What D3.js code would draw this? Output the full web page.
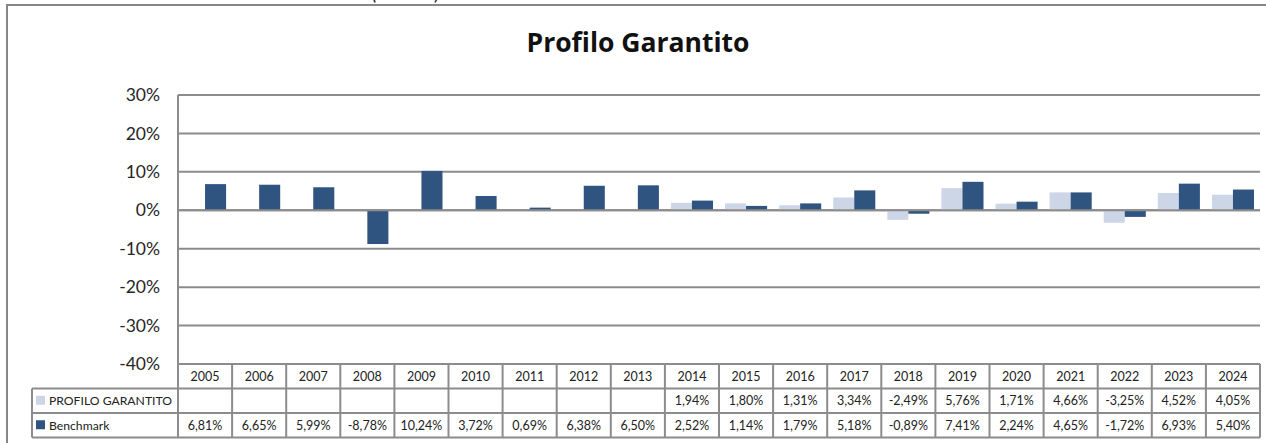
<!DOCTYPE html>
<html>
<head>
<meta charset="utf-8">
<script src="https://cdn.jsdelivr.net/npm/d3@7"></script>
<style>
  body { margin: 0; background: #fff; }
  svg { display: block; font-family: Lato, "Open Sans", sans-serif; }
</style>
</head>
<body>
<svg id="chart"></svg>
<script>
const years = ['2005', '2006', '2007', '2008', '2009', '2010', '2011', '2012', '2013', '2014',
  '2015', '2016', '2017', '2018', '2019', '2020', '2021', '2022', '2023', '2024'];
const garantito = [null, null, null, null, null, null, null, null, null, 1.94,
  1.80, 1.31, 3.34, -2.49, 5.76, 1.71, 4.66, -3.25, 4.52, 4.05];
const benchmark = [6.81, 6.65, 5.99, -8.78, 10.24, 3.72, 0.69, 6.38, 6.50, 2.52,
  1.14, 1.79, 5.18, -0.89, 7.41, 2.24, 4.65, -1.72, 6.93, 5.40];
const seriesNames = ['PROFILO GARANTITO', 'Benchmark'];
const yTicks = [30, 20, 10, 0, -10, -20, -30, -40];

const width = 1266, height = 443;
const margin = { top: 95, left: 178, right: 6, tableTop: 364 };
const rowH = 24.5;
const gridColor = '#8c8c8c';
const color = d3.scaleOrdinal(seriesNames, ['#cdd6e7', '#2f5480']);

const it = d3.formatLocale({ decimal: ',', thousands: '.', grouping: [3], currency: ['€', ''], minus: '-' });
const pct = v => (v == null ? '' : it.format('.2f')(v) + '%');

const svg = d3.select('#chart')
  .attr('width', width)
  .attr('height', height);

// outer chart frame (right and bottom edges fall outside the picture)
svg.append('rect')
  .attr('x', 7).attr('y', 5)
  .attr('width', 1300).attr('height', 500)
  .attr('fill', 'none')
  .attr('stroke', '#868686')
  .attr('stroke-width', 2);

// cut-off caption above the frame
svg.append('text')
  .attr('x', 372).attr('y', 0)
  .attr('font-style', 'italic')
  .attr('font-size', 20)
  .attr('fill', '#222')
  .attr('textLength', 68)
  .attr('lengthAdjust', 'spacing')
  .text('(in %)');

svg.append('text')
  .attr('x', 638).attr('y', 52)
  .attr('text-anchor', 'middle')
  .attr('font-family', '"Open Sans", sans-serif')
  .attr('font-weight', 'bold')
  .attr('font-size', 26.5)
  .attr('fill', '#111')
  .text('Profilo Garantito');

const x = d3.scaleBand()
  .domain(years)
  .range([margin.left, width - margin.right]);

const x1 = d3.scaleBand()
  .domain(seriesNames)
  .range([6, x.bandwidth() - 6]);

const y = d3.scaleLinear()
  .domain([-40, 30])
  .range([margin.tableTop, margin.top]);

// gridlines
svg.append('g')
  .selectAll('line')
  .data(yTicks)
  .join('line')
  .attr('x1', margin.left)
  .attr('x2', width - margin.right)
  .attr('y1', d => y(d))
  .attr('y2', d => y(d))
  .attr('stroke', gridColor)
  .attr('stroke-width', 2);

// y axis labels
svg.append('g')
  .selectAll('text')
  .data(yTicks)
  .join('text')
  .attr('x', 160)
  .attr('y', d => y(d))
  .attr('dy', '0.35em')
  .attr('text-anchor', 'end')
  .attr('font-size', 17.5)
  .attr('fill', '#262626')
  .text(d => d + '%');

// bars
const rows = [garantito, benchmark];
const barData = [];
rows.forEach((vals, s) => {
  vals.forEach((v, i) => {
    if (v != null) barData.push({ year: years[i], series: seriesNames[s], value: v });
  });
});

svg.append('g')
  .selectAll('rect')
  .data(barData)
  .join('rect')
  .attr('x', d => x(d.year) + x1(d.series))
  .attr('width', x1.bandwidth())
  .attr('y', d => y(Math.max(0, d.value)))
  .attr('height', d => Math.abs(y(d.value) - y(0)))
  .attr('fill', d => color(d.series));

// redraw zero line above bars
svg.append('line')
  .attr('x1', margin.left).attr('x2', width - margin.right)
  .attr('y1', y(0)).attr('y2', y(0))
  .attr('stroke', gridColor)
  .attr('stroke-width', 2);

// y axis line
svg.append('line')
  .attr('x1', margin.left).attr('x2', margin.left)
  .attr('y1', y(30)).attr('y2', margin.tableTop + rowH)
  .attr('stroke', gridColor)
  .attr('stroke-width', 2);

// data table
const table = svg.append('g').attr('font-size', 12.5).attr('fill', '#222');
const tTop = margin.tableTop;
const labelLeft = 32;

// horizontal table lines
table.append('line')
  .attr('x1', margin.left).attr('x2', width - margin.right)
  .attr('y1', tTop).attr('y2', tTop)
  .attr('stroke', gridColor).attr('stroke-width', 2);
[1, 2, 3].forEach(r => {
  table.append('line')
    .attr('x1', labelLeft).attr('x2', width - margin.right)
    .attr('y1', tTop + r * rowH).attr('y2', tTop + r * rowH)
    .attr('stroke', gridColor).attr('stroke-width', 2);
});

// vertical table lines
table.selectAll('line.col')
  .data(years.concat(['end']))
  .join('line')
  .attr('class', 'col')
  .attr('x1', d => (d === 'end' ? width - margin.right : x(d)))
  .attr('x2', d => (d === 'end' ? width - margin.right : x(d)))
  .attr('y1', tTop)
  .attr('y2', tTop + 3 * rowH)
  .attr('stroke', gridColor).attr('stroke-width', 2);
table.append('line')
  .attr('x1', labelLeft).attr('x2', labelLeft)
  .attr('y1', tTop + rowH).attr('y2', tTop + 3 * rowH)
  .attr('stroke', gridColor).attr('stroke-width', 2);

// header years
table.selectAll('text.year')
  .data(years)
  .join('text')
  .attr('class', 'year')
  .attr('x', d => x(d) + x.bandwidth() / 2)
  .attr('y', tTop + rowH / 2)
  .attr('dy', '0.35em')
  .attr('text-anchor', 'middle')
  .text(d => d);

// series rows
rows.forEach((vals, s) => {
  const ry = tTop + (s + 1) * rowH + rowH / 2;
  table.append('rect')
    .attr('x', 36).attr('y', ry - 5)
    .attr('width', 9).attr('height', 9)
    .attr('fill', color(seriesNames[s]));
  table.append('text')
    .attr('x', 49).attr('y', ry)
    .attr('dy', '0.35em')
    .attr('font-size', 12.2)
    .text(seriesNames[s]);
  table.selectAll(`text.v${s}`)
    .data(vals)
    .join('text')
    .attr('class', `v${s}`)
    .attr('x', (d, i) => x(years[i]) + x.bandwidth() / 2)
    .attr('y', ry)
    .attr('dy', '0.35em')
    .attr('text-anchor', 'middle')
    .text(d => pct(d));
});
</script>
</body>
</html>
